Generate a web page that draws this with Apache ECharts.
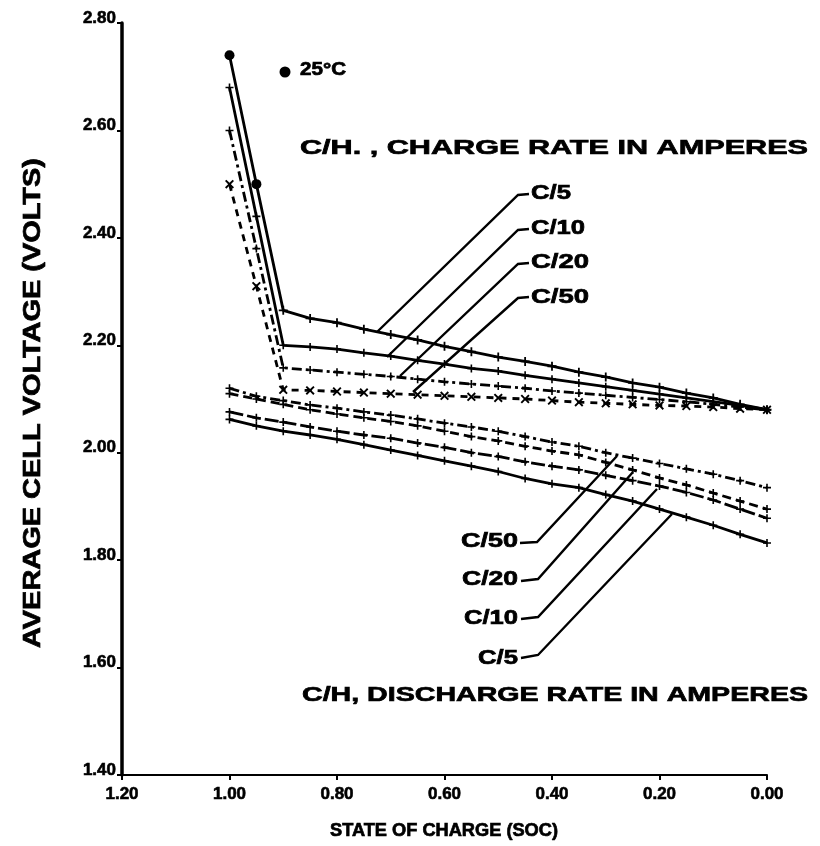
<!DOCTYPE html>
<html>
<head>
<meta charset="utf-8">
<script src="https://cdn.jsdelivr.net/npm/echarts@6/dist/echarts.min.js"></script>
<style>
html,body{margin:0;padding:0;background:#fff;}
#chart{width:820px;height:846px;}
</style>
</head>
<body>
<div id="chart"></div>
<script>
// ---- data ----
const soc = [1.00,0.95,0.90,0.85,0.80,0.75,0.70,0.65,0.60,0.55,0.50,0.45,0.40,0.35,0.30,0.25,0.20,0.15,0.10,0.05,0.00];
const chargeC5  = [2.74,2.50,2.265,2.25,2.242,2.23,2.22,2.21,2.198,2.188,2.178,2.17,2.161,2.15,2.141,2.13,2.122,2.111,2.102,2.09,2.08];
const chargeC10 = [2.68,2.44,2.20,2.197,2.193,2.186,2.18,2.172,2.165,2.157,2.152,2.144,2.137,2.13,2.123,2.116,2.109,2.102,2.095,2.088,2.08];
const chargeC20 = [2.60,2.38,2.158,2.154,2.15,2.146,2.142,2.137,2.132,2.128,2.124,2.12,2.115,2.111,2.107,2.103,2.099,2.095,2.09,2.085,2.08];
const chargeC50 = [2.50,2.31,2.117,2.116,2.114,2.112,2.11,2.108,2.106,2.104,2.102,2.10,2.097,2.094,2.092,2.09,2.088,2.087,2.085,2.082,2.08];
const dischC50 = [2.12,2.105,2.097,2.089,2.083,2.076,2.07,2.063,2.055,2.048,2.04,2.03,2.02,2.012,2.00,1.99,1.98,1.97,1.96,1.948,1.935];
const dischC20 = [2.11,2.10,2.09,2.08,2.072,2.065,2.058,2.05,2.04,2.03,2.022,2.012,2.003,1.996,1.982,1.968,1.953,1.94,1.925,1.91,1.895];
const dischC10 = [2.076,2.065,2.057,2.048,2.04,2.033,2.027,2.018,2.01,2.00,1.993,1.983,1.975,1.968,1.958,1.948,1.938,1.926,1.912,1.895,1.878];
const dischC5  = [2.062,2.05,2.04,2.033,2.025,2.015,2.005,1.995,1.985,1.975,1.965,1.952,1.942,1.935,1.922,1.91,1.895,1.88,1.865,1.848,1.832];

const xTicks = {min:0, max:1.2, interval:0.2};
const yTicks = {min:1.4, max:2.8, interval:0.2};

// ---- styles ----
const INK = '#000';
const FONT = '"Liberation Sans", Arial, sans-serif';
const PLUS = 'path://M4,0h2v4h4v2h-4v4h-2v-4h-4v-2h4z';
const CROSS = 'path://M0,1.5L1.5,0L5,3.5L8.5,0L10,1.5L6.5,5L10,8.5L8.5,10L5,6.5L1.5,10L0,8.5L3.5,5z';

function zip(vals){ return soc.map((s,i)=>[s, vals[i]]); }
function mk(name, vals, dash, sym, symSize){
  return {
    name, type:'line', data: zip(vals),
    symbol: sym, symbolSize: symSize, showSymbol:true,
    itemStyle:{color:INK},
    lineStyle:{color:INK, width:2.8, type:dash},
    animation:false, z:3
  };
}

const series = [
  mk('Charge C/5', chargeC5, 'solid', PLUS, 9),
  mk('Charge C/10', chargeC10, 'solid', PLUS, 8),
  mk('Charge C/20', chargeC20, [10,4,3,4], PLUS, 8),
  mk('Charge C/50', chargeC50, [7,6], CROSS, 9),
  mk('Discharge C/50', dischC50, [10,4,3,4], PLUS, 8),
  mk('Discharge C/20', dischC20, [9,5], PLUS, 8),
  mk('Discharge C/10', dischC10, [14,4], PLUS, 8),
  mk('Discharge C/5', dischC5, 'solid', PLUS, 8)
];
// big dots at the top of the C/5 charge curve
series[0].data[0] = {value: series[0].data[0], symbol:'circle', symbolSize:10};
series[0].data[1] = {value: series[0].data[1], symbol:'circle', symbolSize:10};

// ---- annotations (pixel layout) ----
const measureCtx = document.createElement('canvas').getContext('2d');
function txt(str, x, y, size, width, align, rot){
  measureCtx.font = 'bold ' + size + 'px ' + FONT;
  const w = measureCtx.measureText(str).width;
  const sx = width ? width / w : 1;
  return {
    type:'text', x, y, scaleX: sx, rotation: rot || 0,
    style:{text:str, fill:INK, stroke:INK, lineWidth:0.7, font:'bold ' + size + 'px ' + FONT,
           textAlign: align || 'left', textVerticalAlign:'middle'},
    z:10
  };
}
function leader(points){
  return {type:'polyline', shape:{points}, style:{stroke:INK, lineWidth:2.4, fill:null}, z:9};
}

const graphics = [
  {type:'circle', shape:{cx:285, cy:72, r:5.5}, style:{fill:INK}, z:10},
  txt('25°C', 300, 70, 18, 46),
  txt('C/H. , CHARGE RATE IN AMPERES', 300, 148, 21, 508),
  txt('C/5', 531, 193, 20, 40),
  txt('C/10', 531, 228, 20, 54),
  txt('C/20', 531, 262, 20, 58),
  txt('C/50', 531, 297, 20, 58),
  leader([[529,194],[518,195],[377,332]]),
  leader([[529,229],[518,230],[387,357]]),
  leader([[529,263],[518,264],[400,376]]),
  leader([[529,297],[518,298],[413,392]]),
  txt('C/50', 518, 541, 20, 57, 'right'),
  txt('C/20', 518, 579, 20, 56, 'right'),
  txt('C/10', 518, 618, 20, 54, 'right'),
  txt('C/5', 518, 658, 20, 40, 'right'),
  leader([[520,543],[537,542],[617,456]]),
  leader([[521,581],[538,579],[633,472]]),
  leader([[521,619],[538,617],[657,489]]),
  leader([[521,658],[538,655],[672,514]]),
  txt('C/H, DISCHARGE RATE IN AMPERES', 302, 695, 21, 506),
  // y-axis title, rotated
  txt('AVERAGE CELL VOLTAGE (VOLTS)', 33, 403, 24, 490, 'center', Math.PI/2),
  // x-axis title
  txt('STATE OF CHARGE (SOC)', 444, 831, 19, 228, 'center')
];

const chart = echarts.init(document.getElementById('chart'), null, {renderer:'canvas'});
chart.setOption({
  backgroundColor:'#fff',
  animation:false,
  grid:{left:122, right:53, top:23, bottom:71, containLabel:false},
  xAxis:{
    type:'value', inverse:true, min:xTicks.min, max:xTicks.max, interval:xTicks.interval,
    axisLine:{onZero:false, lineStyle:{color:INK, width:2}},
    axisTick:{show:true, length:5, lineStyle:{color:INK, width:2}},
    axisLabel:{color:INK, fontWeight:'bold', fontSize:17, fontFamily:FONT, margin:11,
      textBorderColor:INK, textBorderWidth:0.6, formatter:v=>v.toFixed(2)},
    splitLine:{show:false}
  },
  yAxis:{
    type:'value', position:'left', min:yTicks.min, max:yTicks.max, interval:yTicks.interval,
    axisLine:{onZero:false, lineStyle:{color:INK, width:3.5}},
    axisTick:{show:true, length:5, lineStyle:{color:INK, width:2}},
    axisLabel:{color:INK, fontWeight:'bold', fontSize:17, fontFamily:FONT, margin:6,
      textBorderColor:INK, textBorderWidth:0.6,
      verticalAlign:'bottom', lineHeight:10, formatter:v=>v.toFixed(2)},
    splitLine:{show:false}
  },
  series,
  graphic: graphics
});
</script>
</body>
</html>
